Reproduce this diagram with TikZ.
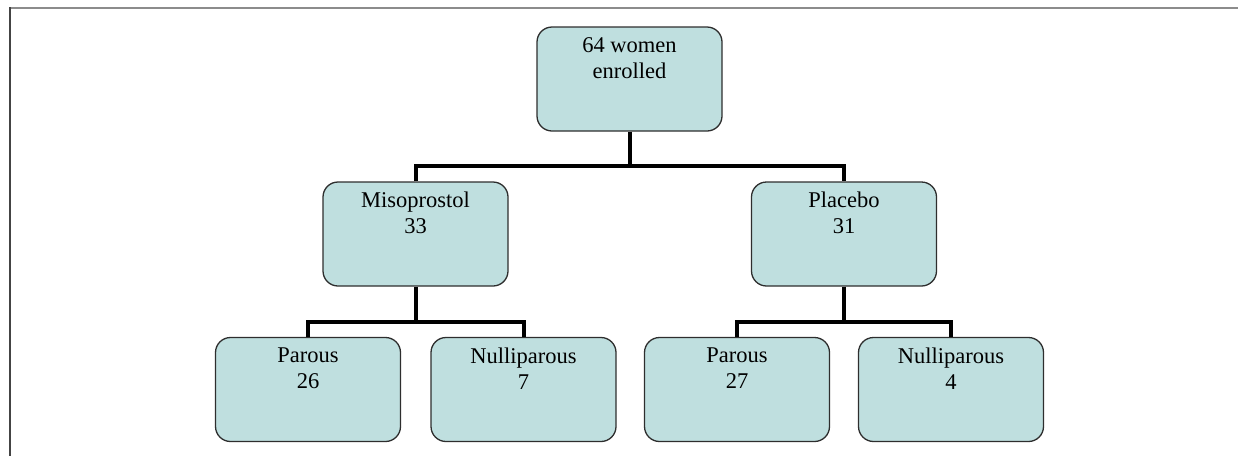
\documentclass[tikz,border=0pt]{standalone}
\usepackage{fontspec}
\setmainfont{Liberation Serif}
\usepackage{tikz}
\usetikzlibrary{positioning,calc}
\definecolor{boxfill}{HTML}{BFDFDF}
\definecolor{boxedge}{HTML}{2E2E2E}
\definecolor{framegray}{HTML}{8C8C8C}
\definecolor{framedark}{HTML}{444444}

\begin{document}
\begin{tikzpicture}[x=1pt, y=-1pt,
    box/.style={draw=boxedge, fill=boxfill, line width=1.3pt, rounded corners=15pt,
      minimum width=185pt, minimum height=104pt, inner sep=0pt},
    boxtext/.style={anchor=north, align=center, inner xsep=0pt, inner ysep=10.6pt,
      font=\fontsize{22.5}{26}\selectfont},
    link/.style={line width=4pt, black}]
  \useasboundingbox (0,0) rectangle (1238,456);
  % frame
  \draw[framegray, line width=2pt] (9,8) -- (1238,8);
  \draw[framedark, line width=2pt] (10,7) -- (10,456);
  % boxes
  \node[box] (women) at (629.5,79) {};
  \node[box] (miso) at (415.5,234) {};
  \node[box] (plac) at (844,234) {};
  \node[box] (misopar) at (308,389.5) {};
  \node[box] (misonul) at (523.5,389.5) {};
  \node[box] (placpar) at (737,389.5) {};
  \node[box] (placnul) at (951,389.5) {};
  % texts
  \node[boxtext] (womentxt) at (women.north) {64 women\\enrolled};
  \node[boxtext] (misotxt) at (miso.north) {Misoprostol\\33};
  \node[boxtext] (plactxt) at (plac.north) {Placebo\\31};
  \node[boxtext] (misopartxt) at (misopar.north) {Parous\\26};
  \node[boxtext] (misonultxt) at (misonul.north) {Nulliparous\\7};
  \node[boxtext] (placpartxt) at (placpar.north) {Parous\\27};
  \node[boxtext] (placnultxt) at (placnul.north) {Nulliparous\\4};
  % connectors
  \coordinate (split1) at ($(women.south)+(0,34)$);
  \coordinate (split2) at ($(miso.south)+(0,35)$);
  \coordinate (split3) at ($(plac.south)+(0,35)$);
  \draw[link] (women.south) -- (split1);
  \draw[link] (miso.north) |- (split1) -| (plac.north);
  \draw[link] (miso.south) -- (split2);
  \draw[link] (misopar.north) |- (split2) -| (misonul.north);
  \draw[link] (plac.south) -- (split3);
  \draw[link] (placpar.north) |- (split3) -| (placnul.north);
\end{tikzpicture}
\end{document}
